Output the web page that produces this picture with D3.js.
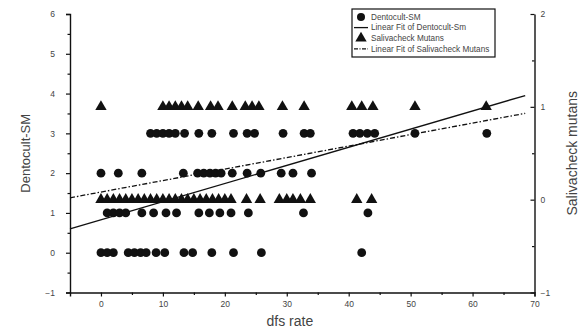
<!DOCTYPE html>
<html>
<head>
<meta charset="utf-8">
<script src="https://cdn.jsdelivr.net/npm/d3@7"></script>
<style>
  body { margin: 0; background: #fff; }
  text { font-family: "Liberation Sans", Arial, sans-serif; }
</style>
</head>
<body>
<div id="chart"></div>
<script>
// values
const dentoLevels = [0, 1, 2, 3];
const dentoDfs = [
  [0, 1, 2, 4.4, 5.4, 6.4, 7.3, 8.9, 10.3, 13.4, 14.8, 17.9, 21.4, 25.9, 42.1],
  [1, 2, 3, 4, 6.6, 8.5, 10.5, 12.2, 15.8, 17.5, 19.2, 21, 23.8, 32.7, 43.1],
  [0, 2.8, 6.6, 13.3, 15.6, 16.6, 17.6, 18.5, 19.4, 21.2, 23.6, 25.8, 29.1, 31, 34],
  [8, 9, 10, 11, 12, 13.5, 15.8, 17.9, 21.4, 23.6, 24.8, 29.4, 32.8, 33.8, 40.7, 41.8, 43, 44.2, 50.7, 62.3]
];
const saliLevels = [0, 1];
const saliDfs = [
  [0, 1, 2, 3, 4, 5, 6, 7, 8, 9, 10, 11, 12, 13, 14, 15, 16, 17, 18, 19, 20, 21, 23.5, 25.7, 28.8, 30, 31, 32.2, 33.8, 41.3, 43.7],
  [0, 10, 11, 12, 13, 14, 15.7, 17.7, 18.9, 21.2, 23.3, 24.4, 25.5, 29.3, 32.8, 40.5, 42.1, 43.9, 50.7, 62.2]
];
// fitted lines, end points [dfs, value]
const dentoFit = [[-5, 0.6], [68.5, 3.95]];
const saliFit = [[-5, 0.02], [68.5, 0.93]];

const xTicks = [0, 10, 20, 30, 40, 50, 60, 70];
const leftTicks = [-1, 0, 1, 2, 3, 4, 5, 6];
const rightTicks = [-1, 0, 1, 2];

const legendItems = [
  { label: 'Dentocult-SM', kind: 'circle' },
  { label: 'Linear Fit of Dentocult-Sm', kind: 'solid' },
  { label: 'Salivacheck Mutans', kind: 'triangle' },
  { label: 'Linear Fit of Salivacheck Mutans', kind: 'dashdot' }
];

const W = 582, H = 336;
const margin = { top: 14, right: 47.5, bottom: 43.5, left: 70 };
const ink = '#111', txt = '#444';

const svg = d3.select('#chart').append('svg')
  .attr('width', W).attr('height', H);

const x = d3.scaleLinear().domain([-5, 70]).range([margin.left, W - margin.right]);
const yL = d3.scaleLinear().domain([-1, 6]).range([H - margin.bottom, margin.top]);
const yR = d3.scaleLinear().domain([-1, 2]).range([H - margin.bottom, margin.top]);

// axes
function styleAxis(g) {
  g.select('.domain').attr('stroke', ink).attr('stroke-width', 1.4);
  g.selectAll('.tick line').attr('stroke', ink).attr('stroke-width', 1.2);
  g.selectAll('.tick text').attr('fill', txt).attr('font-size', 8.5)
    .style('font-family', '"Liberation Sans", Arial, sans-serif');
}

svg.append('g')
  .attr('transform', `translate(${margin.left},0)`)
  .call(d3.axisLeft(yL).tickValues(leftTicks).tickSize(4).tickPadding(11).tickFormat(d3.format('d')))
  .call(styleAxis);
svg.append('g')
  .attr('transform', `translate(${margin.left},0)`)
  .call(d3.axisLeft(yL).tickValues(d3.range(-0.5, 6, 1)).tickSize(2.5).tickFormat(''))
  .call(styleAxis)
  .select('.domain').remove();

svg.append('g')
  .attr('transform', `translate(0,${H - margin.bottom})`)
  .call(d3.axisBottom(x).tickValues(xTicks).tickSize(4).tickPadding(4.5).tickFormat(d3.format('d')))
  .call(styleAxis);
svg.append('g')
  .attr('transform', `translate(0,${H - margin.bottom})`)
  .call(d3.axisBottom(x).tickValues(d3.range(5, 70, 10)).tickSize(2.5).tickFormat(''))
  .call(styleAxis)
  .select('.domain').remove();

svg.append('g')
  .attr('transform', `translate(${W - margin.right},0)`)
  .call(d3.axisRight(yR).tickValues(rightTicks).tickSizeInner(-4).tickSizeOuter(0).tickPadding(6).tickFormat(d3.format('d')))
  .call(styleAxis);
svg.append('g')
  .attr('transform', `translate(${W - margin.right},0)`)
  .call(d3.axisRight(yR).tickValues([-0.5, 0.5, 1.5]).tickSize(-2.5).tickFormat(''))
  .call(styleAxis)
  .select('.domain').remove();

// axis titles
svg.append('text')
  .attr('transform', `translate(25,${(margin.top + H - margin.bottom) / 2}) rotate(-90)`)
  .attr('text-anchor', 'middle').attr('dy', '0.35em')
  .attr('font-size', 13).attr('fill', txt).text('Dentocult-SM');
svg.append('text')
  .attr('transform', `translate(572,${(margin.top + H - margin.bottom) / 2}) rotate(-90)`)
  .attr('text-anchor', 'middle').attr('dy', '0.35em')
  .attr('font-size', 14).attr('fill', txt).text('Salivacheck mutans');
svg.append('text')
  .attr('x', x(30.5)).attr('y', 326)
  .attr('text-anchor', 'middle')
  .attr('font-size', 14).attr('fill', txt).text('dfs rate');

// fit lines
const line = d3.line().x(d => x(d[0]));
svg.append('path')
  .datum(dentoFit)
  .attr('d', line.y(d => yL(d[1])))
  .attr('fill', 'none').attr('stroke', ink).attr('stroke-width', 1.4);
svg.append('path')
  .datum(saliFit)
  .attr('d', line.y(d => yR(d[1])))
  .attr('fill', 'none').attr('stroke', ink).attr('stroke-width', 1.3)
  .attr('stroke-dasharray', '5,2,1.5,2');

// points
const circlePts = dentoLevels.flatMap((v, i) => dentoDfs[i].map(d => ({ x: d, y: v })));
const triPts = saliLevels.flatMap((v, i) => saliDfs[i].map(d => ({ x: d, y: v })));

svg.append('g').selectAll('circle')
  .data(circlePts)
  .enter().append('circle')
  .attr('cx', d => x(d.x)).attr('cy', d => yL(d.y))
  .attr('r', 4.4).attr('fill', ink);

const tri = d3.symbol().type(d3.symbolTriangle).size(56);
svg.append('g').selectAll('path')
  .data(triPts)
  .enter().append('path')
  .attr('d', tri)
  .attr('transform', d => `translate(${x(d.x)},${yR(d.y)})`)
  .attr('fill', ink);

// legend
const lg = svg.append('g').attr('transform', 'translate(352,9)');
lg.append('rect')
  .attr('width', 143).attr('height', 48)
  .attr('fill', '#fff').attr('stroke', ink).attr('stroke-width', 1.2);
legendItems.forEach((it, i) => {
  const cy = 8 + i * 10.6;
  const row = lg.append('g').attr('transform', `translate(0,${cy})`);
  if (it.kind === 'circle') {
    row.append('circle').attr('cx', 9).attr('r', 4).attr('fill', ink);
  } else if (it.kind === 'triangle') {
    row.append('path').attr('d', tri).attr('transform', 'translate(9,0)').attr('fill', ink);
  } else {
    row.append('line').attr('x1', 2).attr('x2', 16)
      .attr('stroke', ink).attr('stroke-width', 1.3)
      .attr('stroke-dasharray', it.kind === 'dashdot' ? '4,1.5,1,1.5' : null);
  }
  row.append('text').attr('x', 19).attr('dy', '0.35em')
    .attr('font-size', 8.2).attr('fill', txt).text(it.label);
});
</script>
</body>
</html>
